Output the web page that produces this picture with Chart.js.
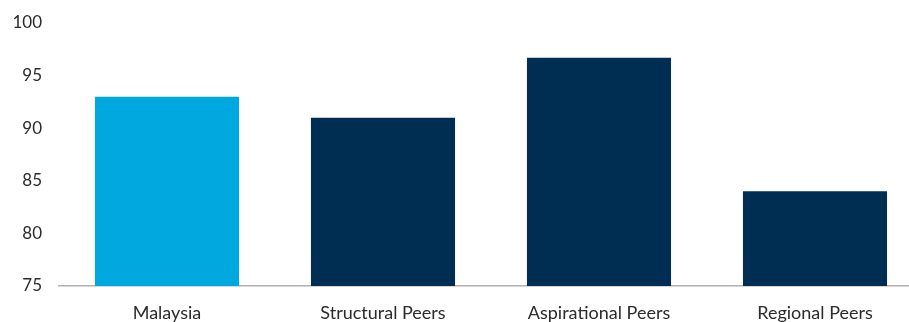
<!DOCTYPE html>
<html>
<head>
<meta charset="utf-8">
<script src="https://cdn.jsdelivr.net/npm/chart.js@4"></script>
<style>
  html, body { margin: 0; padding: 0; background: #ffffff; overflow: hidden; width: 909px; height: 322px; }
  #wrap { position: absolute; left: 0; top: 0; width: 923px; height: 322px; }
</style>
</head>
<body>
<div id="wrap"><canvas id="c" width="923" height="322"></canvas></div>
<script>
const categories = ['Malaysia', 'Structural Peers', 'Aspirational Peers', 'Regional Peers'];
const scores = [93.0, 91.0, 96.7, 84.0];
const barColors = ['#00a8e0', '#002e52', '#002e52', '#002e52'];
const yTicks = [75, 80, 85, 90, 95, 100];

const Y_FONT = { family: 'Lato, "Open Sans", sans-serif', size: 17 };
const X_FONT = { family: 'Lato, "Open Sans", sans-serif', size: 18 };

new Chart(document.getElementById('c'), {
  type: 'bar',
  data: {
    labels: categories,
    datasets: [{
      data: scores,
      backgroundColor: barColors,
      borderWidth: 0,
      barPercentage: 0.667,
      categoryPercentage: 1.0
    }]
  },
  options: {
    responsive: false,
    animation: false,
    devicePixelRatio: 1,
    layout: { padding: { top: 23, right: 0, bottom: 0, left: 0 } },
    plugins: { legend: { display: false }, tooltip: { enabled: false } },
    scales: {
      x: {
        grid: { display: false, drawTicks: false },
        border: { display: true, color: '#b0b0b0', width: 1.5 },
        ticks: { color: '#2b2b2b', font: X_FONT, padding: 16, maxRotation: 0, autoSkip: false },
        afterFit: s => { s.height = 36; }
      },
      y: {
        min: 75,
        max: 100,
        afterBuildTicks: s => { s.ticks = yTicks.map(v => ({ value: v })); },
        grid: { display: false, drawTicks: false },
        border: { display: false },
        ticks: { color: '#2b2b2b', font: Y_FONT, padding: 17 },
        afterFit: s => { s.width = 59; s.paddingTop = 0; s.paddingBottom = 0; }
      }
    }
  }
});
</script>
</body>
</html>
